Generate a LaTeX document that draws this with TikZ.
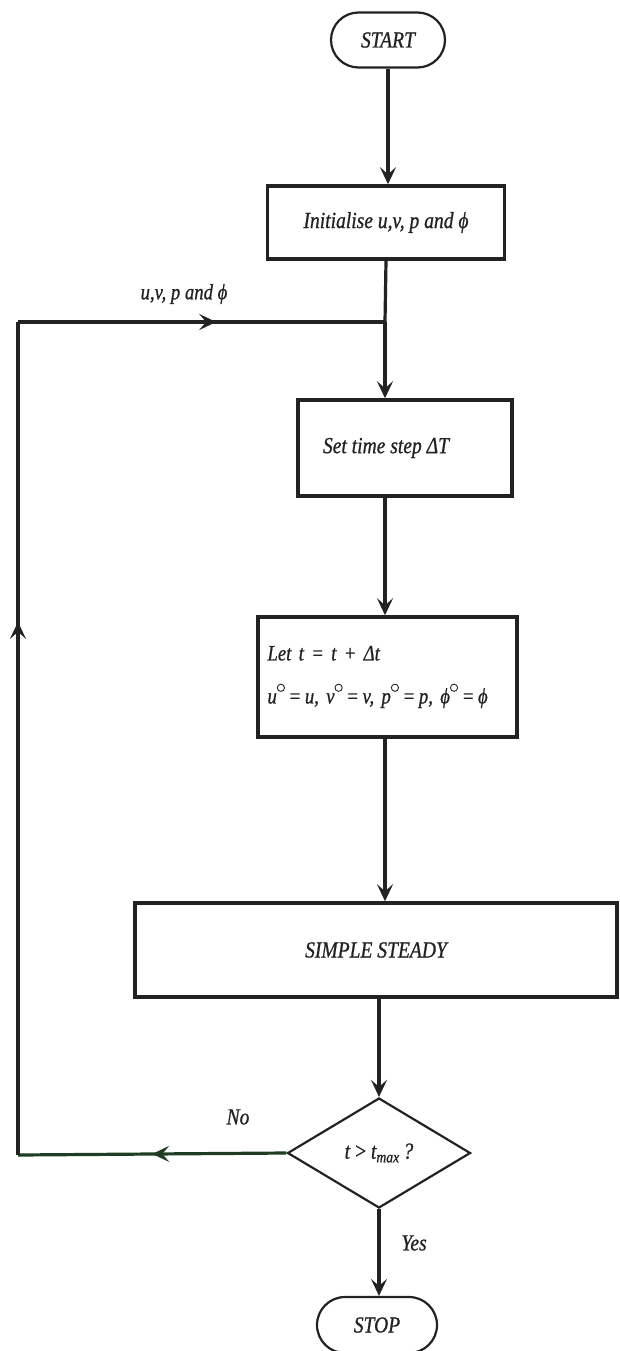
\documentclass[tikz,border=0pt]{standalone}
\usepackage{fontspec}
\setmainfont{Liberation Serif}[FakeStretch=0.85, ItalicFeatures={FakeBold=0.8}]
\usetikzlibrary{shapes.misc,shapes.geometric,arrows.meta,decorations.markings}
\definecolor{ink}{HTML}{222222}
\definecolor{nogreen}{HTML}{1F3D24}
\newcommand{\circsup}{\raisebox{1.15ex}{\tikz\draw[line width=0.9pt] (0,0) circle (3.6pt);}}
\tikzset{
  ftxt/.style={font=\fontsize{23}{28}\selectfont\itshape, text=ink},
  boxn/.style={draw=ink, line width=3.5pt, rectangle, ftxt, inner sep=0pt},
  term/.style={draw=ink, line width=2.2pt, rounded rectangle, ftxt, inner sep=0pt},
  conn/.style={draw=ink, line width=3.2pt, -{Stealth[length=17pt,width=16pt,inset=7pt]}},
  plain/.style={draw=ink, line width=3.2pt},
  midarrow/.style={postaction={decorate}, decoration={markings,
     mark=at position #1 with {\arrow{Stealth[length=17pt,width=16pt,inset=7pt]}}}},
}
\begin{document}
\begin{tikzpicture}[x=1pt,y=-1pt]
\useasboundingbox (0,0) rectangle (620,1351);
\node[term, minimum width=114pt, minimum height=55pt] (start) at (388,40) {START};
\node[boxn, minimum width=237pt, minimum height=73pt] (init) at (386,222.5) {Initialise \textit{u},\textit{v}, \textit{p} and ϕ};
\coordinate (J) at (385,322);
\coordinate (TL) at (18,322);
\coordinate (BL) at (18,1155);
\node[boxn, minimum width=214pt, minimum height=96pt] (set) at (405,448) {\hspace*{-38pt}Set time step ΔT};
\node[boxn, minimum width=259pt, minimum height=120pt, align=left, text width=240pt, font=\fontsize{22}{43}\selectfont\itshape] (let) at (387.5,677)
  {Let \textit{t} = \textit{t} + Δ\textit{t}\\
   \textit{u}\circsup\,=\,\textit{u}, \textit{v}\circsup\,=\,\textit{v}, \textit{p}\circsup\,=\,\textit{p}, ϕ\circsup\,=\,ϕ};
\node[boxn, minimum width=482pt, minimum height=94pt] (simple) at (376,950) {SIMPLE STEADY};
\node[draw=ink, line width=2.2pt, diamond, aspect=1.66, minimum width=183pt, minimum height=110pt, inner sep=0pt, ftxt] (dec) at (379,1153)
  {\textit{t}\,>\,\textit{t}\textsubscript{max}\,?};
\node[term, minimum width=120pt, minimum height=56pt] (stop) at (377,1325) {STOP};

\draw[conn] (start.south) -- (start.south |- init.north);
\draw[plain] (init.south) -- (J);
\draw[conn] (J) -- (J |- set.north);
\draw[conn] (set.south -| J) -- (J |- let.north);
\draw[conn] (let.south -| J) -- (J |- simple.north);
\draw[conn] (simple.south -| dec.north) -- (dec.north);
\draw[conn] (dec.south) -- (dec.south |- stop.north);

\draw[draw=nogreen, line width=3.2pt, midarrow=0.5] (dec.west) -- (BL);
\draw[plain, midarrow=0.64] (BL) -- (TL);
\draw[plain, midarrow=0.54] (TL) -- (J);

\node[ftxt, font=\fontsize{22}{26}\selectfont\itshape] (lbl) at (184,294) {\textit{u},\textit{v}, \textit{p} and ϕ};
\node[ftxt] (no) at (238,1117) {No};
\node[ftxt] (yes) at (414,1243) {Yes};
\end{tikzpicture}
\end{document}
